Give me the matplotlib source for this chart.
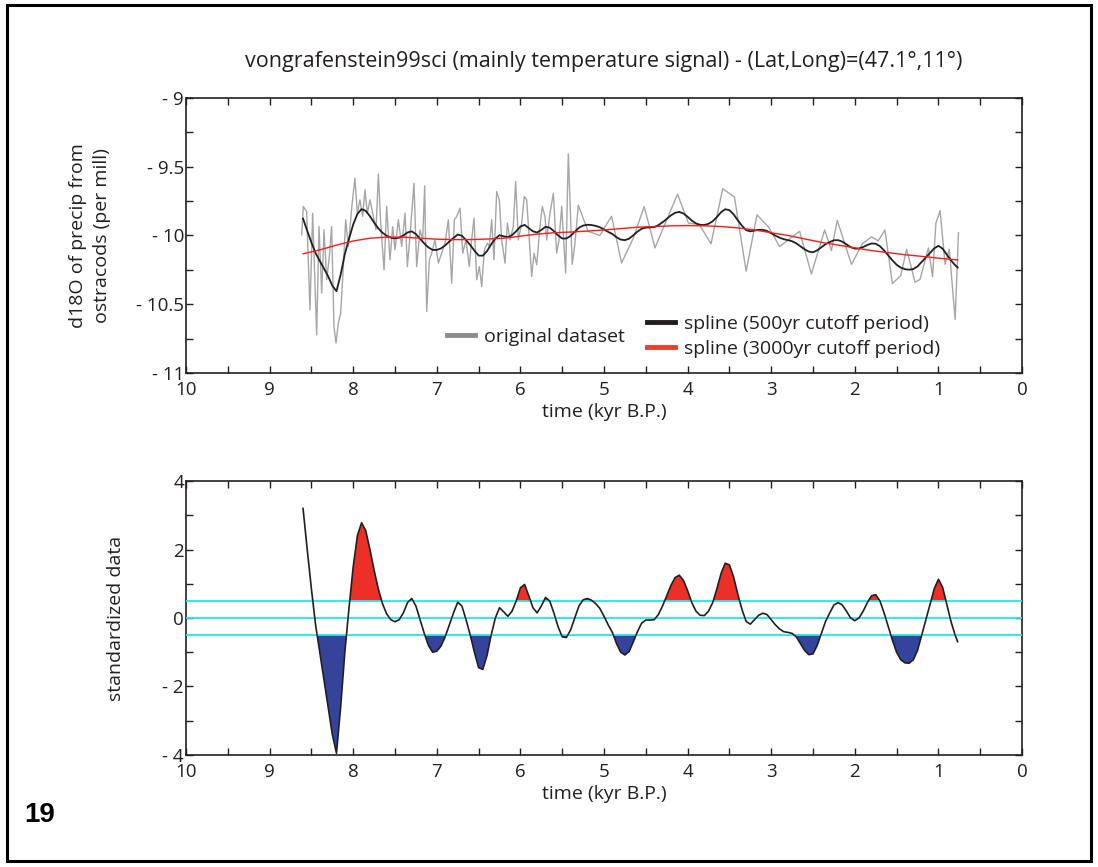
import numpy as np
import matplotlib
matplotlib.use("Agg")
import matplotlib.pyplot as plt
from matplotlib.lines import Line2D
from matplotlib.patches import Rectangle
from matplotlib.ticker import MultipleLocator, FuncFormatter

plt.rcParams['font.family'] = ['Open Sans', 'DejaVu Sans']
TXT = '#231f20'

# original ostracod d18O record (kyr B.P., per mill)
orig_t = [8.616, 8.597, 8.557, 8.517, 8.485, 8.437, 8.409, 8.377, 8.349, 8.317,
          8.285, 8.258, 8.230, 8.206, 8.178, 8.150, 8.118, 8.090, 8.058, 8.018,
          7.979, 7.951, 7.919, 7.887, 7.859, 7.831, 7.799, 7.759, 7.727, 7.699,
          7.671, 7.631, 7.600, 7.560, 7.528, 7.500, 7.460, 7.420, 7.380, 7.352,
          7.321, 7.273, 7.241, 7.201, 7.169, 7.145, 7.121, 7.089, 7.061, 7.022,
          6.982, 6.942, 6.902, 6.862, 6.822, 6.790, 6.762, 6.722, 6.690, 6.651,
          6.611, 6.583, 6.555, 6.523, 6.491, 6.463, 6.431, 6.395, 6.372, 6.344,
          6.316, 6.284, 6.252, 6.224, 6.184, 6.156, 6.124, 6.085, 6.057, 6.025,
          5.985, 5.953, 5.925, 5.893, 5.865, 5.837, 5.805, 5.766, 5.738, 5.706,
          5.686, 5.646, 5.606, 5.566, 5.538, 5.506, 5.459, 5.427, 5.38, 5.35,
          5.307, 5.19, 5.05, 4.91, 4.79, 4.65, 4.52, 4.39, 4.26, 4.12,
          3.99, 3.86, 3.72, 3.58, 3.44, 3.30, 3.17, 3.03, 2.90, 2.77,
          2.66, 2.52, 2.36, 2.28, 2.21, 2.04, 1.91, 1.80, 1.72, 1.64,
          1.55, 1.45, 1.38, 1.28, 1.22, 1.12, 1.07, 1.03, 0.98, 0.92,
          0.87, 0.80, 0.76]
orig_d18o = [-9.995, -9.789, -9.826, -10.541, -9.838, -10.723, -9.935, -10.419, -9.959, -10.322,
             -10.153, -9.935, -10.662, -10.783, -10.638, -10.565, -10.226, -9.886, -10.080, -9.801,
             -9.583, -9.838, -9.741, -9.862, -9.668, -9.838, -9.741, -9.862, -9.959, -9.554,
             -9.910, -10.250, -9.789, -10.177, -9.935, -10.104, -9.886, -10.080, -9.838, -10.226,
             -10.007, -9.620, -10.226, -9.959, -10.032, -9.639, -10.553, -10.177, -10.129, -10.032,
             -10.201, -10.129, -10.056, -9.886, -10.347, -9.886, -9.862, -9.801, -10.129, -10.032,
             -10.226, -10.032, -9.874, -10.322, -10.226, -10.371, -10.104, -10.056, -10.080, -9.886,
             -10.177, -9.680, -9.741, -10.032, -10.201, -9.910, -10.032, -9.935, -9.607, -10.032,
             -9.910, -9.716, -9.741, -10.032, -10.298, -10.129, -10.213, -9.935, -9.789, -9.862,
             -10.032, -9.838, -9.692, -10.129, -10.032, -9.789, -10.274, -9.406, -10.21, -10.07,
             -9.78, -9.97, -10.00, -9.86, -10.20, -10.02, -9.79, -10.09, -9.90, -9.70,
             -9.91, -9.92, -10.06, -9.66, -9.72, -10.26, -9.85, -9.94, -10.08, -10.02,
             -9.97, -10.28, -9.96, -10.11, -9.89, -10.21, -10.06, -10.01, -10.04, -9.96,
             -10.35, -10.29, -10.10, -10.34, -10.32, -10.09, -10.30, -9.91, -9.82, -10.21,
             -10.10, -10.61, -9.98]

# 3000 yr cutoff spline
slow_t = [8.60, 8.40, 8.20, 8.00, 7.80, 7.60, 7.40, 7.20, 7.00, 6.80,
          6.60, 6.40, 6.20, 6.00, 5.80, 5.60, 5.40, 5.20, 5.00, 4.80,
          4.60, 4.40, 4.20, 4.00, 3.80, 3.60, 3.40, 3.20, 3.00, 2.80,
          2.60, 2.40, 2.20, 2.00, 1.80, 1.60, 1.40, 1.20, 1.00, 0.77]
slow_d18o = [-10.133, -10.105, -10.070, -10.040, -10.020, -10.012, -10.012, -10.020, -10.027, -10.030,
             -10.030, -10.026, -10.020, -10.005, -9.990, -9.980, -9.975, -9.968, -9.960, -9.950,
             -9.940, -9.935, -9.930, -9.928, -9.930, -9.935, -9.945, -9.960, -9.980, -10.000,
             -10.025, -10.050, -10.070, -10.090, -10.110, -10.125, -10.140, -10.152, -10.165, -10.178]

# 500 yr cutoff spline and its standardized anomaly, sampled every 50 yr
spline_t = list(np.round(np.arange(8.60, 0.79, -0.05), 2)) + [0.77]
fast_d18o = [-9.877, -9.966, -10.051, -10.128, -10.185, -10.240, -10.296, -10.365, -10.405, -10.285,
             -10.135, -10.024, -9.920, -9.843, -9.808, -9.821, -9.860, -9.906, -9.948, -9.980,
             -10.002, -10.016, -10.021, -10.016, -10.000, -9.978, -9.970, -9.990, -10.024, -10.058,
             -10.087, -10.105, -10.105, -10.094, -10.072, -10.044, -10.018, -9.993, -10.002, -10.034,
             -10.070, -10.110, -10.146, -10.147, -10.114, -10.065, -10.023, -9.998, -10.006, -10.012,
             -9.997, -9.969, -9.935, -9.923, -9.946, -9.970, -9.978, -9.960, -9.937, -9.943,
             -9.968, -9.999, -10.022, -10.022, -10.003, -9.973, -9.944, -9.928, -9.922, -9.924,
             -9.930, -9.940, -9.956, -9.974, -9.989, -10.013, -10.030, -10.034, -10.023, -9.999,
             -9.972, -9.951, -9.943, -9.941, -9.939, -9.925, -9.904, -9.880, -9.854, -9.835,
             -9.829, -9.840, -9.864, -9.892, -9.912, -9.923, -9.924, -9.915, -9.897, -9.866,
             -9.831, -9.809, -9.816, -9.846, -9.889, -9.929, -9.961, -9.970, -9.964, -9.959,
             -9.959, -9.967, -9.984, -10.001, -10.016, -10.027, -10.034, -10.042, -10.057, -10.079,
             -10.101, -10.117, -10.122, -10.108, -10.086, -10.063, -10.048, -10.035, -10.034, -10.045,
             -10.064, -10.085, -10.096, -10.095, -10.084, -10.069, -10.058, -10.060, -10.078, -10.109,
             -10.145, -10.181, -10.213, -10.234, -10.245, -10.249, -10.244, -10.225, -10.192, -10.159,
             -10.127, -10.094, -10.075, -10.096, -10.139, -10.181, -10.216, -10.233]
std_data = [3.2, 2.0, 0.85, -0.2, -1.0, -1.8, -2.6, -3.4, -3.95, -2.6,
            -1.0, 0.3, 1.5, 2.4, 2.78, 2.55, 2.0, 1.4, 0.85, 0.42,
            0.12, -0.05, -0.11, -0.05, 0.15, 0.45, 0.57, 0.35, -0.05, -0.45,
            -0.8, -1.0, -0.97, -0.82, -0.55, -0.2, 0.15, 0.46, 0.35, -0.05,
            -0.5, -1.0, -1.45, -1.5, -1.1, -0.5, 0.0, 0.30, 0.18, 0.05,
            0.2, 0.5, 0.88, 0.98, 0.65, 0.3, 0.15, 0.35, 0.6, 0.5,
            0.15, -0.25, -0.55, -0.57, -0.35, 0.0, 0.35, 0.53, 0.57, 0.52,
            0.42, 0.28, 0.05, -0.2, -0.42, -0.75, -1.0, -1.08, -0.98, -0.7,
            -0.4, -0.15, -0.06, -0.06, -0.05, 0.1, 0.35, 0.65, 0.95, 1.18,
            1.25, 1.1, 0.8, 0.45, 0.2, 0.08, 0.07, 0.2, 0.45, 0.85,
            1.3, 1.6, 1.55, 1.2, 0.7, 0.25, -0.1, -0.18, -0.05, 0.08,
            0.14, 0.1, -0.05, -0.2, -0.32, -0.4, -0.42, -0.45, -0.55, -0.75,
            -0.95, -1.07, -1.05, -0.8, -0.45, -0.1, 0.15, 0.38, 0.45, 0.38,
            0.2, 0.0, -0.08, 0.0, 0.2, 0.45, 0.65, 0.68, 0.5, 0.15,
            -0.25, -0.65, -1.0, -1.22, -1.31, -1.32, -1.22, -0.95, -0.5, -0.05,
            0.4, 0.85, 1.13, 0.9, 0.4, -0.1, -0.5, -0.69]
threshold = 0.5

spline_t = np.array(spline_t)
std_data = np.array(std_data)


def closed_runs(mask):
    # keep only excursions that start and end inside the record
    mask = mask.copy()
    n = len(mask)
    i = 0
    while i < n and mask[i]:
        mask[i] = False
        i += 1
    i = n - 1
    while i >= 0 and mask[i]:
        mask[i] = False
        i -= 1
    return mask


def minus_fmt(v, pos):
    if v < 0:
        return '- ' + f'{-v:g}'
    return f'{v:g}'


def style_axes(ax, ymajor, yminor):
    ax.set_xlim(10, 0)
    ax.xaxis.set_major_locator(MultipleLocator(1))
    ax.xaxis.set_minor_locator(MultipleLocator(0.5))
    ax.yaxis.set_major_locator(MultipleLocator(ymajor))
    ax.yaxis.set_minor_locator(MultipleLocator(yminor))
    ax.yaxis.set_major_formatter(FuncFormatter(minus_fmt))
    ax.tick_params(which='both', direction='in', top=True, right=True,
                   length=5, width=1, color='#231f20', labelsize=13.5,
                   labelcolor=TXT)
    ax.tick_params(axis='x', pad=6)
    ax.tick_params(axis='y', pad=1.5)
    for s in ax.spines.values():
        s.set_linewidth(1.2)
        s.set_color('#231f20')
    ax.set_xlabel('time (kyr B.P.)', fontsize=14, color=TXT, labelpad=3)


fig = plt.figure(figsize=(10.98, 8.67), dpi=100)
fig.patches.append(Rectangle((0.006, 0.007), 0.988, 0.987, transform=fig.transFigure,
                             fill=False, edgecolor='black', linewidth=2.2))

ax1 = fig.add_axes([0.1694, 0.5698, 0.7614, 0.3172])
ax1.plot(orig_t, orig_d18o, color='#a6a6a6', lw=1.0)
ax1.plot(spline_t, fast_d18o, color='#231f20', lw=1.3)
ax1.plot(slow_t, slow_d18o, color='#ff1a1a', lw=1.0)
ax1.set_ylim(-11, -9)
style_axes(ax1, 0.5, 0.25)
ax1.set_ylabel('d18O of precip from\nostracods (per mill)', fontsize=14,
               color=TXT, labelpad=18, linespacing=1.4)

leg1 = ax1.legend(handles=[Line2D([], [], color='#8c8c8c', lw=3.5)],
                  labels=['original dataset'], loc='center left',
                  bbox_to_anchor=(0.312, 0.131), frameon=False, fontsize=14,
                  handlelength=1.45, handletextpad=0.45, labelcolor=TXT,
                  borderaxespad=0, borderpad=0)
ax1.add_artist(leg1)
ax1.legend(handles=[Line2D([], [], color='#231f20', lw=3.5),
                    Line2D([], [], color='#e8402a', lw=3.5)],
           labels=['spline (500yr cutoff period)', 'spline (3000yr cutoff period)'],
           loc='center left', bbox_to_anchor=(0.551, 0.133), frameon=False,
           fontsize=14, handlelength=1.45, handletextpad=0.45,
           labelspacing=0.35, labelcolor=TXT, borderaxespad=0, borderpad=0)

ax1.set_title('vongrafenstein99sci (mainly temperature signal) - (Lat,Long)=(47.1°,11°)',
              fontsize=15.5, color=TXT, pad=22)

ax2 = fig.add_axes([0.1694, 0.1292, 0.7614, 0.3160])
ax2.fill_between(spline_t, threshold, std_data,
                 where=closed_runs(std_data > threshold),
                 interpolate=True, color='#ec3027', lw=0)
ax2.fill_between(spline_t, -threshold, std_data,
                 where=closed_runs(std_data < -threshold),
                 interpolate=True, color='#35449a', lw=0)
for lev in (threshold, 0, -threshold):
    ax2.axhline(lev, color='#1ee8f2', lw=1.3, zorder=3)
ax2.plot(spline_t, std_data, color='#231f20', lw=1.2, zorder=4)
ax2.set_ylim(-4, 4)
style_axes(ax2, 2, 1)
ax2.set_ylabel('standardized data', fontsize=14, color=TXT, labelpad=27)

fig.text(0.022, 0.052, '19', fontsize=20, fontweight='bold',
         family=['Liberation Sans', 'DejaVu Sans'], color='black')

fig.savefig('out.png', dpi=100)
